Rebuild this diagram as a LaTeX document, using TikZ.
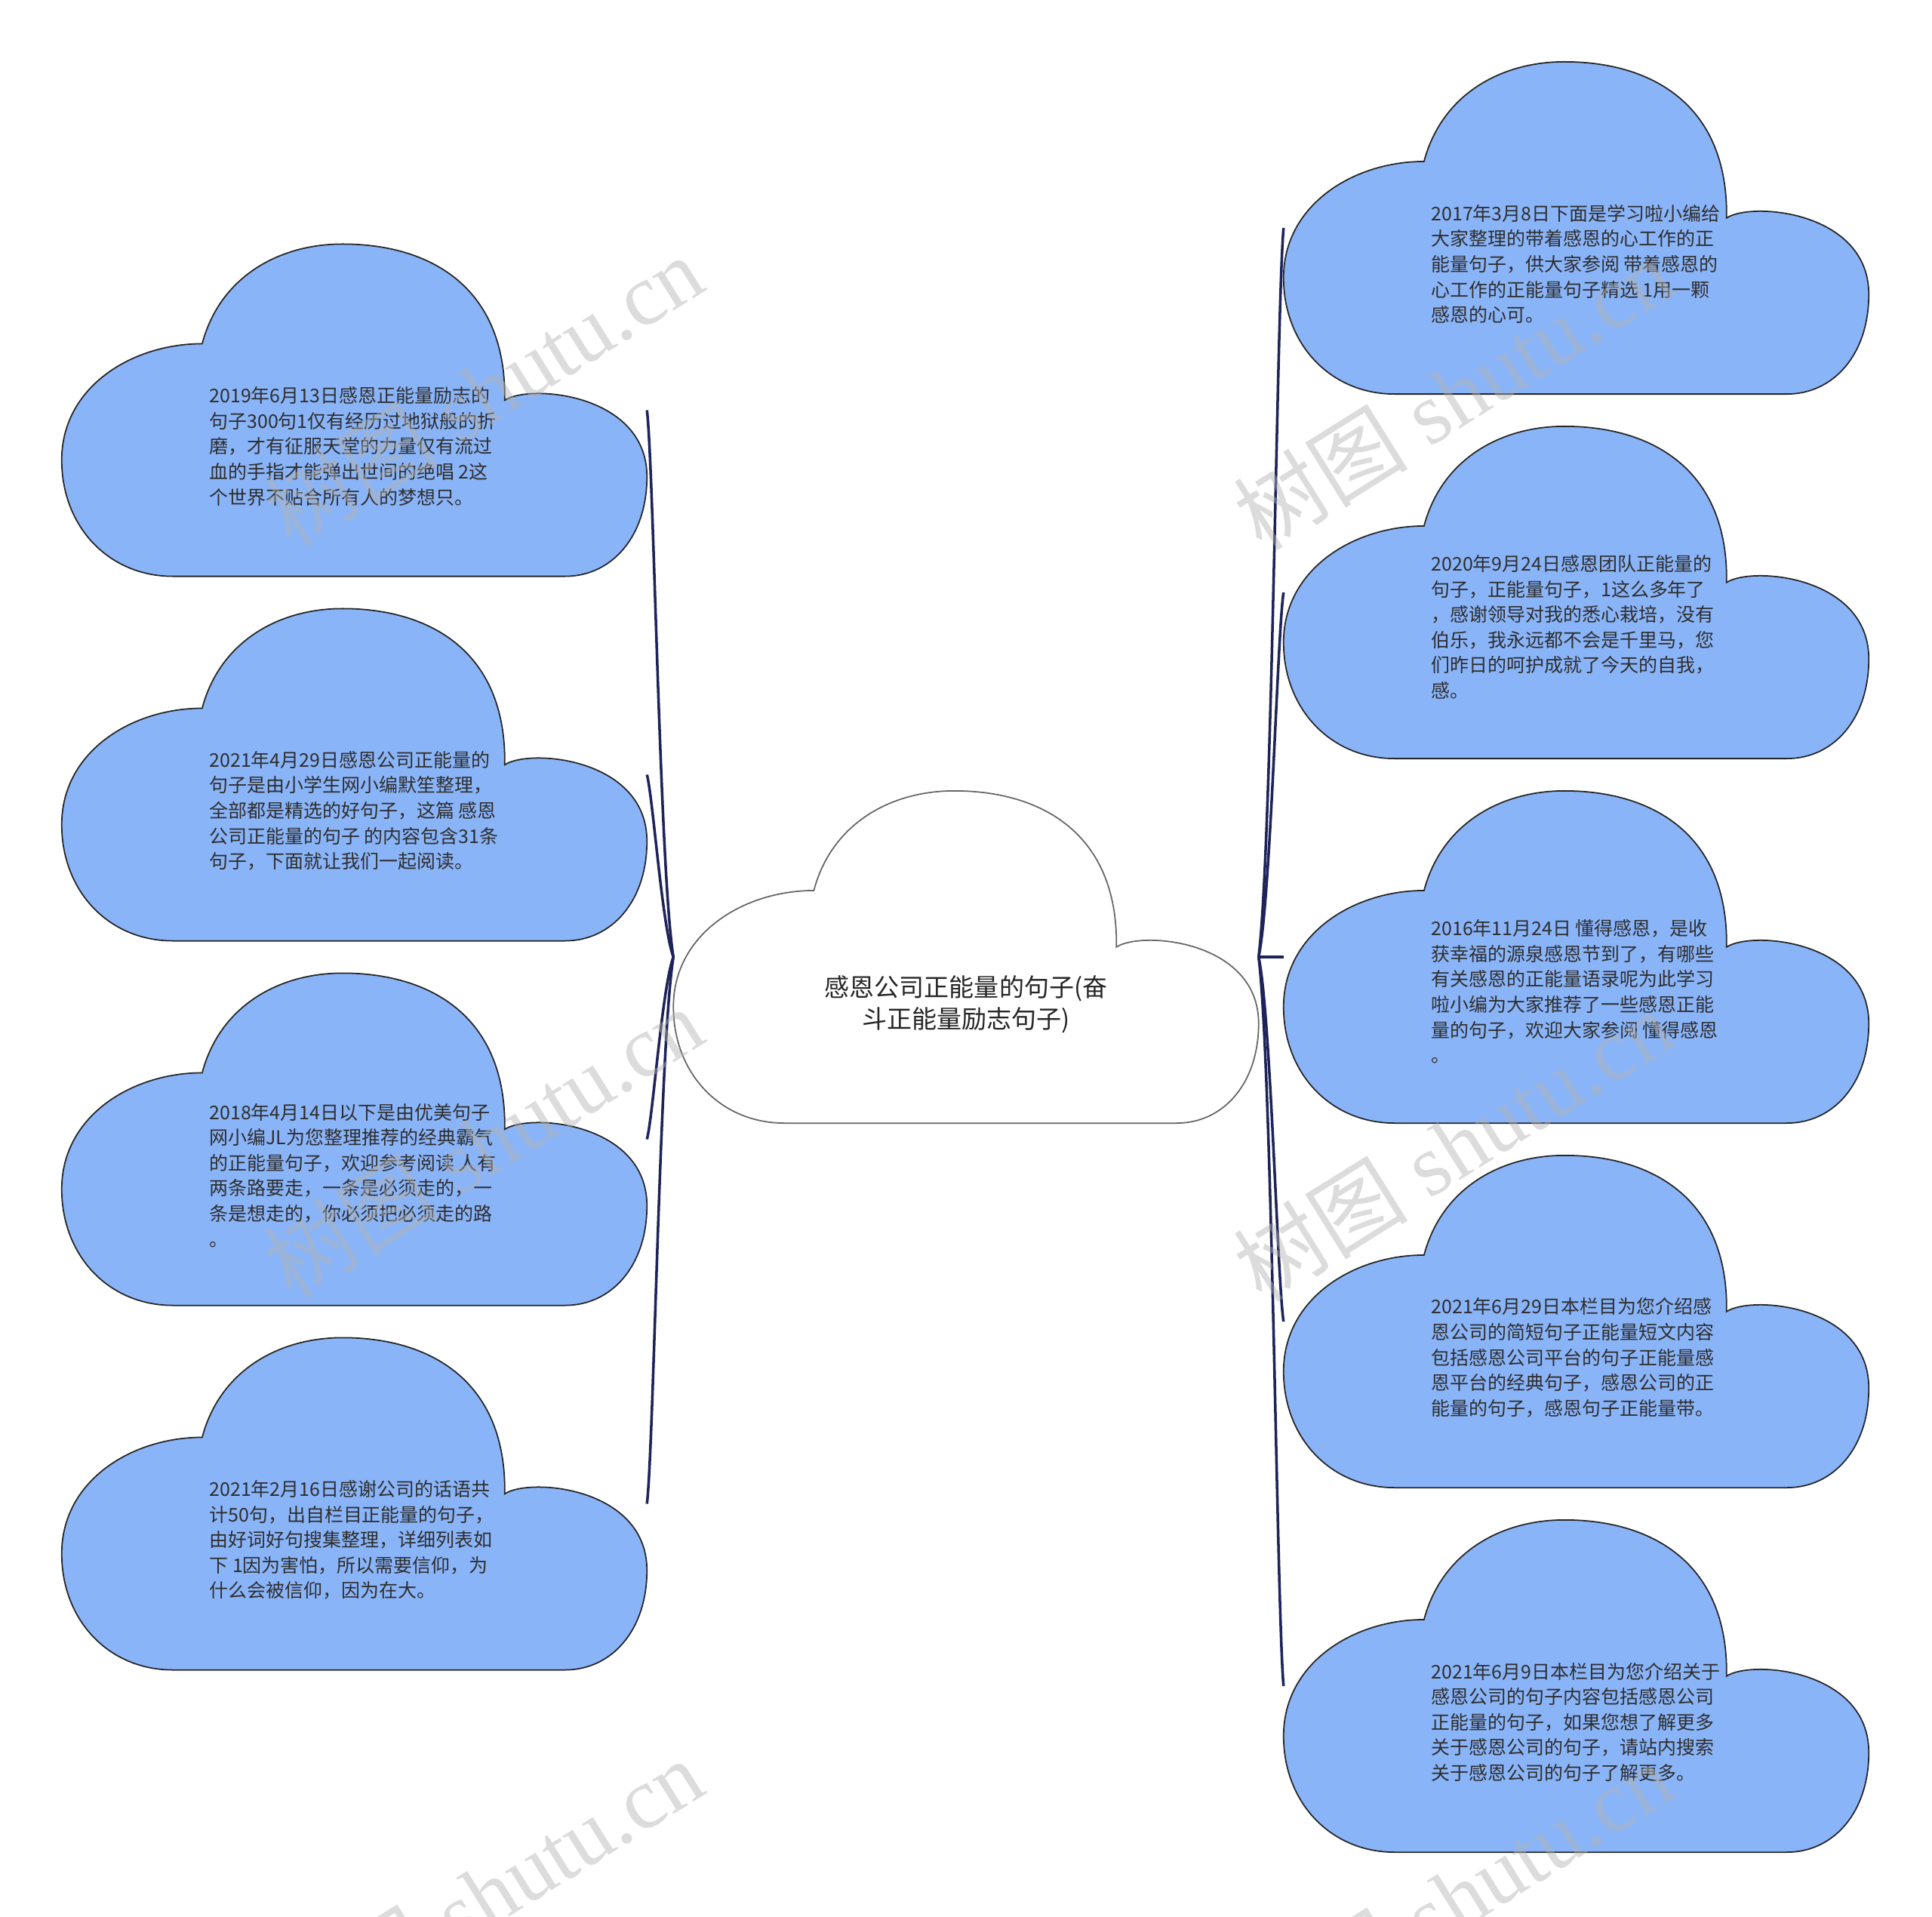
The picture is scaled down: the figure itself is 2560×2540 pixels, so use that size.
\documentclass[tikz,border=0pt]{standalone}
\usepackage{fontspec}
\setmainfont{Liberation Serif}
\newfontfamily\cjk{Noto Sans CJK SC}
\usetikzlibrary{calc}
\definecolor{cloudblue}{HTML}{8AB4F8}
\definecolor{linknavy}{HTML}{1E2459}
\definecolor{txtgray}{HTML}{2E2E2E}
\tikzset{
    puff/.pic={
        \path[pic actions, x=7.75cm, y=-4.4cm] (0.19,1) .. controls (0.08,1) and (0,0.85) .. (0,0.65)
            .. controls (0,0.43) and (0.12,0.30) .. (0.24,0.30)
            .. controls (0.27,0.10) and (0.37,0) .. (0.48,0)
            .. controls (0.63,0) and (0.76,0.13) .. (0.757,0.47)
            .. controls (0.80,0.42) and (1,0.45) .. (1,0.70)
            .. controls (1,0.88) and (0.94,1) .. (0.86,1) -- cycle;
    }
}

\begin{document}
\begin{tikzpicture}[x=0.01cm, y=-0.01cm,
        cloudbox/.style={minimum width=7.75cm, minimum height=4.4cm, inner sep=0pt, outer sep=0pt},
        leaf/.style={draw=black!85, fill=cloudblue, line width=0.5pt},
        rootcloud/.style={draw=black!60, fill=white, line width=0.5pt},
        leaftext/.style={anchor=west, align=left, inner sep=0pt, text=txtgray, font=\cjk\fontsize{7.1pt}{9.55pt}\selectfont},
        roottext/.style={align=center, inner sep=0pt, text=black!85, font=\cjk\fontsize{9.4pt}{11.8pt}\selectfont},
        link/.style={draw=linknavy, line width=1pt},
        wmark/.style={rotate=32, text=black!30, opacity=0.45, inner sep=0pt, font=\fontsize{33pt}{33pt}\selectfont}]
        \path[use as bounding box, clip] (0,0) rectangle (2560,2540);
        \fill[white] (0,0) rectangle (2560,2540);

        % Root
        \node[cloudbox] (root) at (1280,1268) {};
        \pic[rootcloud] at (root.north west) {puff};
        \node[roottext] (roott) at ($(root.north)+(0,283)$) {感恩公司正能量的句子(奋\\斗正能量励志句子)};

        % Left clouds
        \node[cloudbox] (l1) at (469.5,543.5) {};
        \node[cloudbox] (l2) at (469.5,1026.5) {};
        \node[cloudbox] (l3) at (469.5,1509.5) {};
        \node[cloudbox] (l4) at (469.5,1992.5) {};
        \foreach \n in {l1,l2,l3,l4} \pic[leaf] at (\n.north west) {puff};

        \node[leaftext] (l1t) at ($(l1.north west)+(195,268)$) {2019年6月13日感恩正能量励志的\\句子300句1仅有经历过地狱般的折\\磨，才有征服天堂的力量仅有流过\\血的手指才能弹出世间的绝唱 2这\\个世界不贴合所有人的梦想只。};
        \node[leaftext] (l2t) at ($(l2.north west)+(195,268)$) {2021年4月29日感恩公司正能量的\\句子是由小学生网小编默笙整理，\\全部都是精选的好句子，这篇 感恩\\公司正能量的句子 的内容包含31条\\句子，下面就让我们一起阅读。};
        \node[leaftext] (l3t) at ($(l3.north west)+(195,268)$) {2018年4月14日以下是由优美句子\\网小编JL为您整理推荐的经典霸气\\的正能量句子，欢迎参考阅读 人有\\两条路要走，一条是必须走的，一\\条是想走的，你必须把必须走的路\\。};
        \node[leaftext] (l4t) at ($(l4.north west)+(195,268)$) {2021年2月16日感谢公司的话语共\\计50句，出自栏目正能量的句子，\\由好词好句搜集整理，详细列表如\\下 1因为害怕，所以需要信仰，为\\什么会被信仰，因为在大。};

        % Right clouds
        \node[cloudbox] (r1) at (2088.5,302) {};
        \node[cloudbox] (r2) at (2088.5,785) {};
        \node[cloudbox] (r3) at (2088.5,1268) {};
        \node[cloudbox] (r4) at (2088.5,1751) {};
        \node[cloudbox] (r5) at (2088.5,2234) {};
        \foreach \n in {r1,r2,r3,r4,r5} \pic[leaf] at (\n.north west) {puff};

        \node[leaftext] (r1t) at ($(r1.north west)+(195,268)$) {2017年3月8日下面是学习啦小编给\\大家整理的带着感恩的心工作的正\\能量句子，供大家参阅 带着感恩的\\心工作的正能量句子精选 1用一颗\\感恩的心可。};
        \node[leaftext] (r2t) at ($(r2.north west)+(195,266)$) {2020年9月24日感恩团队正能量的\\句子，正能量句子，1这么多年了\\，感谢领导对我的悉心栽培，没有\\伯乐，我永远都不会是千里马，您\\们昨日的呵护成就了今天的自我，\\感。};
        \node[leaftext] (r3t) at ($(r3.north west)+(195,266)$) {2016年11月24日 懂得感恩，是收\\获幸福的源泉感恩节到了，有哪些\\有关感恩的正能量语录呢为此学习\\啦小编为大家推荐了一些感恩正能\\量的句子，欢迎大家参阅 懂得感恩\\。};
        \node[leaftext] (r4t) at ($(r4.north west)+(195,268)$) {2021年6月29日本栏目为您介绍感\\恩公司的简短句子正能量短文内容\\包括感恩公司平台的句子正能量感\\恩平台的经典句子，感恩公司的正\\能量的句子，感恩句子正能量带。};
        \node[leaftext] (r5t) at ($(r5.north west)+(195,268)$) {2021年6月9日本栏目为您介绍关于\\感恩公司的句子内容包括感恩公司\\正能量的句子，如果您想了解更多\\关于感恩公司的句子，请站内搜索\\关于感恩公司的句子了解更多。};

        % Links
        \draw[link] (root.west) .. controls +(-18,-110) and +(9,75) .. (l1.east);
        \draw[link] (root.west) .. controls +(-15,-40) and +(8,30) .. (l2.east);
        \draw[link] (root.west) .. controls +(-15,40) and +(8,-30) .. (l3.east);
        \draw[link] (root.west) .. controls +(-18,110) and +(9,-75) .. (l4.east);
        \draw[link] (root.east) .. controls +(18,-145) and +(-9,100) .. (r1.west);
        \draw[link] (root.east) .. controls +(16,-75) and +(-8,50) .. (r2.west);
        \draw[link] (root.east) -- (r3.west);
        \draw[link] (root.east) .. controls +(16,75) and +(-8,-50) .. (r4.west);
        \draw[link] (root.east) .. controls +(18,145) and +(-9,-100) .. (r5.west);

        % Watermarks
        \node[wmark] (wm1) at (640,518) {{\cjk 树图} shutu.cn};
        \node[wmark] (wm2) at (1925,522) {{\cjk 树图} shutu.cn};
        \node[wmark] (wm3) at (640,1514) {{\cjk 树图} shutu.cn};
        \node[wmark] (wm4) at (1925,1518) {{\cjk 树图} shutu.cn};
        \node[wmark] (wm5) at (640,2510) {{\cjk 树图} shutu.cn};
        \node[wmark] (wm6) at (1925,2514) {{\cjk 树图} shutu.cn};
    \end{tikzpicture}
\end{document}
